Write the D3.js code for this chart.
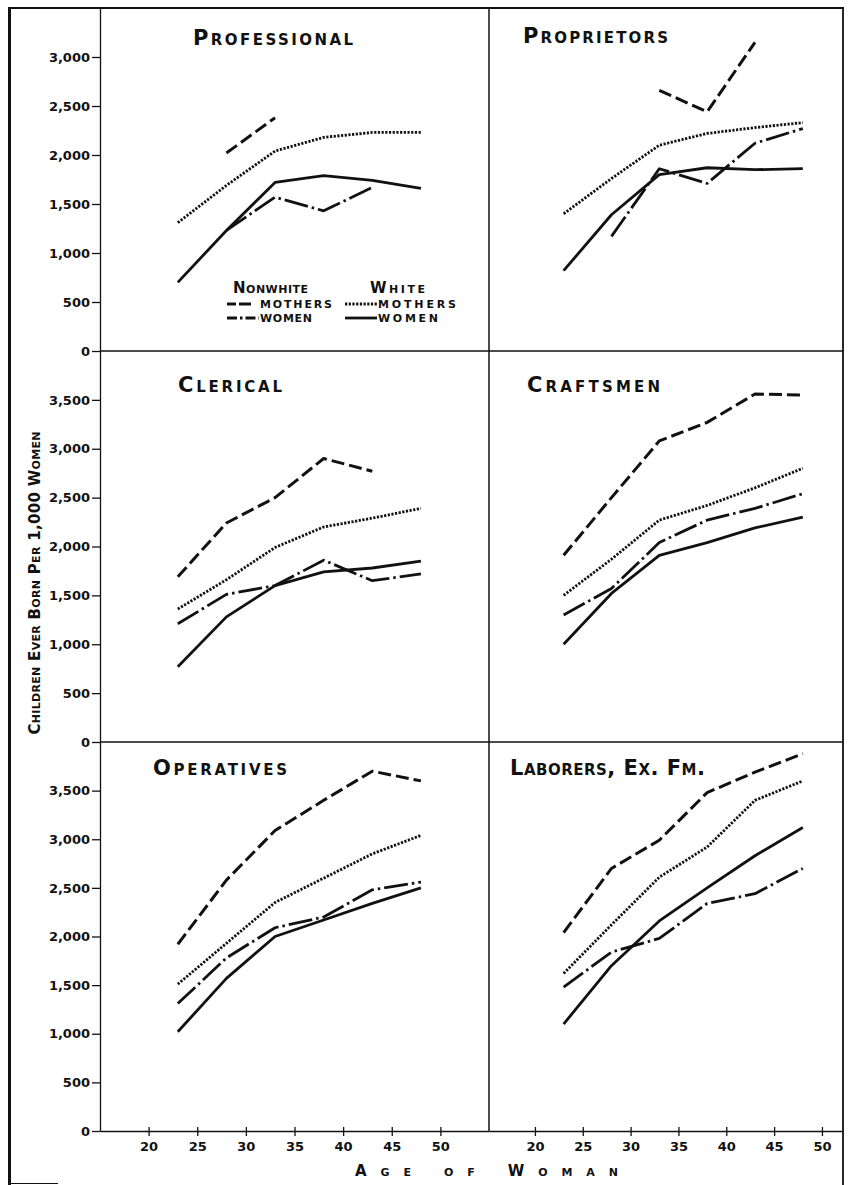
<!DOCTYPE html>
<html>
<head>
<meta charset="utf-8">
<script src="https://cdn.jsdelivr.net/npm/d3@7"></script>
<style>
  body { margin: 0; background: #fff; }
  svg { display: block; font-family: "DejaVu Sans", sans-serif; }
  .tick line, .domain { stroke: #111; stroke-width: 1.3; }
  .title { font-size: 21px; font-weight: bold; font-variant: small-caps; fill: #111; }
  .leg { font-size: 11px; font-weight: bold; fill: #111; }
  .leghead { font-size: 15px; font-weight: bold; font-variant: small-caps; fill: #111; }
  .axis-label { font-size: 15px; font-weight: bold; font-variant: small-caps; fill: #111; }
</style>
</head>
<body>
<div id="chart"></div>
<script>
const ages = [23, 28, 33, 38, 43, 48];
const panels = ["Professional", "Proprietors", "Clerical", "Craftsmen", "Operatives", "Laborers, Ex. Fm."];
const xTicks = [20, 25, 30, 35, 40, 45, 50];
const yTicksTop = [0, 500, 1000, 1500, 2000, 2500, 3000];
const yTicksLower = [0, 500, 1000, 1500, 2000, 2500, 3000, 3500];

// children ever born per 1,000 women, one row per panel, by age
const nonwhiteMothers = [
  [null, 2020, 2380, null, null, null],
  [null, null, 2660, 2440, 3150, null],
  [1690, 2240, 2500, 2900, 2770, null],
  [1910, 2500, 3080, 3270, 3560, 3550],
  [1920, 2580, 3090, 3400, 3700, 3600],
  [2040, 2700, 2990, 3480, 3690, 3880]
];
const nonwhiteWomen = [
  [null, 1230, 1570, 1430, 1670, null],
  [null, 1170, 1860, 1710, 2120, 2270],
  [1210, 1510, 1600, 1860, 1650, 1720],
  [1300, 1570, 2040, 2270, 2390, 2540],
  [1310, 1780, 2090, 2200, 2480, 2560],
  [1480, 1840, 1980, 2340, 2440, 2700]
];
const whiteMothers = [
  [1310, 1690, 2040, 2180, 2230, 2230],
  [1400, 1760, 2100, 2220, 2280, 2330],
  [1360, 1660, 1990, 2200, 2290, 2390],
  [1500, 1870, 2270, 2420, 2600, 2800],
  [1510, 1930, 2350, 2600, 2850, 3040],
  [1620, 2120, 2610, 2920, 3400, 3600]
];
const whiteWomen = [
  [700, 1230, 1720, 1790, 1740, 1660],
  [820, 1390, 1800, 1870, 1850, 1860],
  [770, 1280, 1600, 1740, 1780, 1850],
  [1000, 1520, 1910, 2040, 2190, 2300],
  [1020, 1570, 2000, 2170, 2340, 2500],
  [1100, 1700, 2160, 2500, 2830, 3120]
];

const series = [
  { data: nonwhiteMothers, dash: "13,5", legDash: "9,3,3,0.01,9", w: 3 },
  { data: nonwhiteWomen, dash: "24,4,2.5,4", legDash: "10,3,2.5,3", w: 2.8 },
  { data: whiteMothers, dash: "2.2,1.5", legDash: "2.2,1.5", w: 2.8 },
  { data: whiteWomen, dash: null, legDash: null, w: 2.8 }
];

const W = 854, H = 1185;
const svg = d3.select("#chart").append("svg").attr("width", W).attr("height", H);

const colRange = [[100, 489], [489, 843]];
const colDomain = [[15, 55], [15.2, 52.2]];
const rowRange = [[8, 351], [351, 742], [742, 1131]];
const rowMax = [3500, 4000, 4000];
const titlePos = [[193, 45, 160], [523, 43, 145], [178, 392, 104], [527, 392, 133], [153, 775, 134], [510, 775, 195]];

// frame
const frame = svg.append("g").attr("stroke", "#111").attr("fill", "none");
frame.append("line").attr("x1", 9.5).attr("x2", 9.5).attr("y1", 7).attr("y2", 1185).attr("stroke-width", 3);
frame.append("line").attr("x1", 9).attr("x2", 844).attr("y1", 8).attr("y2", 8).attr("stroke-width", 2);
frame.append("line").attr("x1", 843).attr("x2", 843).attr("y1", 8).attr("y2", 1185).attr("stroke-width", 1.8);
frame.append("line").attr("x1", 9).attr("x2", 58).attr("y1", 1183.5).attr("y2", 1183.5).attr("stroke-width", 1);
frame.append("line").attr("x1", 489).attr("x2", 489).attr("y1", 8).attr("y2", 1131).attr("stroke-width", 1.5);
[351, 742].forEach(yy => {
  frame.append("line").attr("x1", 100).attr("x2", 843).attr("y1", yy).attr("y2", yy).attr("stroke-width", 1.5);
});

const tickFont = sel => sel.selectAll(".tick text")
  .attr("font-family", "DejaVu Sans")
  .attr("font-weight", "bold")
  .attr("font-size", 13)
  .attr("fill", "#111");

panels.forEach((name, i) => {
  const row = Math.floor(i / 2), col = i % 2;
  const x = d3.scaleLinear().domain(colDomain[col]).range(colRange[col]);
  const y = d3.scaleLinear().domain([0, rowMax[row]]).range([rowRange[row][1], rowRange[row][0]]);
  const g = svg.append("g");

  if (col === 0) {
    g.append("g")
      .attr("transform", "translate(100,0)")
      .call(d3.axisLeft(y).tickValues(row === 0 ? yTicksTop : yTicksLower)
        .tickSize(8).tickSizeOuter(0).tickPadding(2).tickFormat(d3.format(",")))
      .call(a => a.select(".domain").attr("stroke-width", 1.8))
      .call(tickFont);
  }
  if (row === 2) {
    g.append("g")
      .attr("transform", "translate(0,1131)")
      .call(d3.axisBottom(x).tickValues(xTicks).tickSize(5).tickSizeOuter(0).tickPadding(6))
      .call(a => a.select(".domain").attr("stroke-width", 1.8))
      .call(a => a.selectAll(".tick line").attr("y1", -4))
      .call(tickFont);
  }

  const line = d3.line()
    .defined(d => d[1] != null)
    .x(d => x(d[0]))
    .y(d => y(d[1]));

  series.forEach(s => {
    g.append("path")
      .datum(ages.map((a, k) => [a, s.data[i][k]]))
      .attr("d", line)
      .attr("fill", "none")
      .attr("stroke", "#111")
      .attr("stroke-width", s.w)
      .attr("stroke-dasharray", s.dash)
      .attr("stroke-linejoin", "round");
  });

  g.append("text")
    .attr("class", "title")
    .attr("x", titlePos[i][0])
    .attr("y", titlePos[i][1])
    .attr("textLength", titlePos[i][2])
    .attr("lengthAdjust", "spacing")
    .text(name);
});

// legend in the first panel
const leg = svg.append("g");
leg.append("text").attr("class", "leghead").attr("x", 233).attr("y", 293).attr("textLength", 75).text("Nonwhite");
leg.append("text").attr("class", "leghead").attr("x", 370).attr("y", 293).attr("textLength", 55).text("White");
const legRows = [
  [227, 304, series[0], "MOTHERS", 72],
  [227, 318, series[1], "WOMEN", 52],
  [345, 304, series[2], "MOTHERS", 78],
  [345, 318, series[3], "WOMEN", 60]
];
legRows.forEach(([lx, ly, s, label, len]) => {
  leg.append("line")
    .attr("x1", lx).attr("x2", lx + 32).attr("y1", ly).attr("y2", ly)
    .attr("stroke", "#111").attr("stroke-width", s.w)
    .attr("stroke-dasharray", s.legDash);
  leg.append("text").attr("class", "leg")
    .attr("x", lx + 33).attr("y", ly + 4)
    .attr("textLength", len).attr("lengthAdjust", "spacing")
    .text(label);
});

// axis titles
svg.append("text")
  .attr("class", "axis-label")
  .attr("transform", "translate(40,583) rotate(-90)")
  .attr("text-anchor", "middle")
  .attr("textLength", 303)
  .attr("lengthAdjust", "spacing")
  .text("Children Ever Born Per 1,000 Women");

svg.append("text")
  .attr("class", "axis-label")
  .attr("x", 355)
  .attr("y", 1176)
  .attr("font-size", 17)
  .attr("textLength", 263)
  .attr("lengthAdjust", "spacing")
  .text("Age of Woman");
</script>
</body>
</html>
